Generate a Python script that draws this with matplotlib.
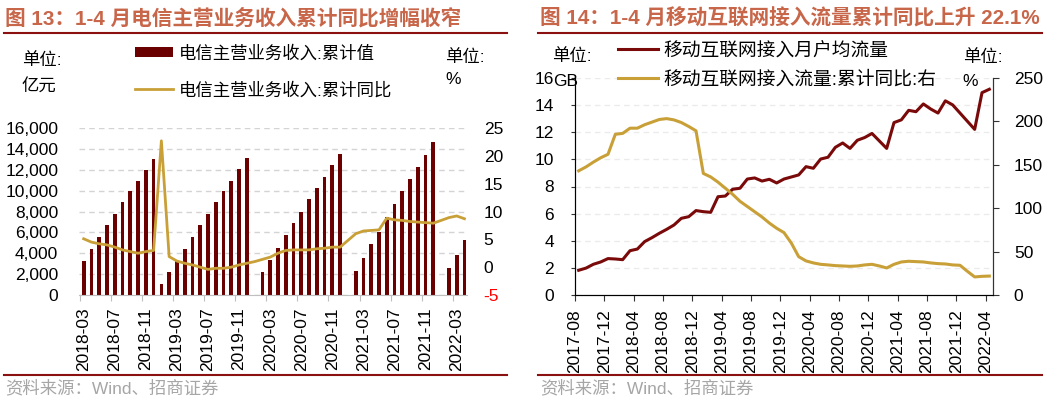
import numpy as np
import pandas as pd
import matplotlib
matplotlib.use('Agg')
import matplotlib.pyplot as plt
from matplotlib.lines import Line2D

plt.rcParams['font.family'] = ['Liberation Sans', 'Noto Sans CJK SC']
plt.rcParams['axes.unicode_minus'] = False

# ---------------- data: figure 13 (telecom revenue, 2018-03 .. 2022-04)
rev_months = pd.period_range('2018-03', '2022-04', freq='M').strftime('%Y-%m').tolist()
rev_cum = [3230, 4390, 5550, 6680, 7740, 8870, 10000, 10940, 12000, 13000,
           1070, 2160, 3290, 4450, 5550, 6680, 7740, 8870, 9970, 10940, 12030, 13100,
           np.nan, 2190, 3320, 4550, 5710, 6900, 8000, 9160, 10230, 11290, 12450, 13550,
           np.nan, 2320, 3580, 4840, 6070, 7520, 8710, 9940, 11070, 12230, 13450, 14650,
           np.nan, 2550, 3870, 5260]
rev_yoy = [5.1, 4.5, 4.2, 4.0, 3.6, 3.1, 2.8, 2.5, 2.8, 3.0,
           22.7, 1.9, 1.1, 0.7, 0.4, 0.0, -0.4, -0.2, -0.2, 0.0, 0.4, 0.7,
           1.0, 1.4, 1.8, 2.5, 3.0, 3.1, 3.1, 3.1, 3.3, 3.4, 3.6, 3.6,
           4.8, 6.0, 6.5, 6.6, 6.7, 8.8, 8.5, 8.4, 8.2, 8.1, 8.0, 7.9,
           8.4, 8.9, 9.2, 8.7]

# ---------------- data: figure 14 (mobile traffic, 2017-08 .. 2022-04)
dou_months = pd.period_range('2017-08', '2022-04', freq='M').strftime('%Y-%m').tolist()
dou_gb = [1.84, 2.0, 2.28, 2.45, 2.7, 2.67, 2.62, 3.28, 3.4, 3.95, 4.24, 4.56,
          4.85, 5.17, 5.66, 5.78, 6.23, 6.15, 6.1, 7.25, 7.3, 7.8, 7.87, 8.55,
          8.63, 8.4, 8.53, 8.26, 8.55, 8.7, 8.85, 9.46, 9.34, 10.02, 10.15, 10.88,
          11.2, 10.8, 11.4, 11.6, 11.9, 11.35, 10.8, 12.7, 12.9, 13.6, 13.5, 14.07,
          13.7, 13.4, 14.3, 14.0, 13.4, 12.8, 12.2, 14.9, 15.15]
traffic_yoy = [143, 147.5, 153, 158, 162, 185, 186, 192, 192, 196, 199, 202,
               203, 201.5, 198.5, 194, 189, 140, 136, 130, 123, 116, 108, 102,
               96, 90, 83, 77, 72, 60, 44.4, 39.5, 37.2, 35.6, 34.9, 34.1,
               33.7, 33.3, 33.7, 34.9, 35.6, 33.7, 31.4, 35.6, 38.3, 39.1, 38.7, 38.3,
               37.2, 36.4, 36.0, 34.9, 34.5, 27.6, 21.1, 21.8, 22.1]

BAR = '#6B0000'
DARK = '#7A0A0A'
GOLD = '#C9A038'
TITLE = '#C8664A'
RULE = '#8B1010'
FS = 12.5

W, H = 1059, 405
def fx(px):
    return px / W
def fy(py):
    return 1 - py / H

fig = plt.figure(figsize=(W / 100, H / 100), dpi=100)

# ======== left chart
ax1 = fig.add_axes([fx(79), fy(295), (467 - 79) / W, (295 - 128) / H])
x1 = np.arange(len(rev_months))
bars = ax1.bar(x1, rev_cum, width=0.48, color=BAR, zorder=2)
ax1.set_xlim(-0.6, 49.33)
ax1.set_ylim(0, 16000)
ax1.set_yticks(np.arange(0, 16001, 2000))
ax1.set_yticklabels(['{:,}'.format(v) for v in range(0, 16001, 2000)], fontsize=FS)
ax1.grid(axis='y', ls=(0, (4, 3)), color='#D4D4D4', lw=1)
ax1.set_axisbelow(True)
for s in ['top', 'left', 'right']:
    ax1.spines[s].set_visible(False)
ax1.spines['bottom'].set_color('#BFBFBF')
ax1.tick_params(axis='y', length=0, pad=15)
lab_pos = x1[::4]
ax1.set_xticks(lab_pos - 0.5)
ax1.set_xticklabels([])
ax1.tick_params(axis='x', which='major', length=4, color='#BFBFBF')
ax1.set_xticks(lab_pos, minor=True)
ax1.set_xticklabels([rev_months[i] for i in lab_pos], minor=True, rotation=90, fontsize=FS)
ax1.tick_params(axis='x', which='minor', length=0, pad=9)

ax1r = ax1.twinx()
line1, = ax1r.plot(x1, rev_yoy, color=GOLD, lw=2)
ax1r.set_ylim(-5, 25)
ax1r.set_yticks(np.arange(-5, 26, 5))
ax1r.set_yticklabels([str(v) for v in range(-5, 26, 5)], fontsize=FS)
ax1r.get_yticklabels()[0].set_color('#FF0000')
ax1r.tick_params(axis='y', length=0, pad=12)
for s in ax1r.spines.values():
    s.set_visible(False)

fig.legend(handles=[bars], labels=['电信主营业务收入:累计值'], loc='center left',
           bbox_to_anchor=(fx(135), fy(53)), frameon=False, borderpad=0, borderaxespad=0,
           handlelength=2.2, handleheight=0.45, handletextpad=0.35, fontsize=FS)
fig.legend(handles=[line1], labels=['电信主营业务收入:累计同比'], loc='center left',
           bbox_to_anchor=(fx(135), fy(90)), frameon=False, borderpad=0, borderaxespad=0,
           handlelength=2.2, handletextpad=0.35, fontsize=FS)

fig.text(fx(22), fy(60), '单位:', fontsize=FS, va='center')
fig.text(fx(22), fy(87), '亿元', fontsize=FS, va='center')
fig.text(fx(445), fy(57), '单位:', fontsize=FS, va='center')
fig.text(fx(445), fy(80), '%', fontsize=FS, va='center')

# ======== right chart
ax2 = fig.add_axes([fx(575), fy(295.3), (993 - 575) / W, (295.3 - 77.7) / H])
x2 = np.arange(len(dou_months)) + 0.5
line2, = ax2.plot(x2, dou_gb, color=DARK, lw=2.2)
ax2.set_xlim(0, len(dou_months))
ax2.set_ylim(0, 16)
ax2.set_yticks(np.arange(0, 17, 2))
ax2.tick_params(axis='y', labelsize=FS, length=3, pad=12, color='#333333')
ax2.grid(axis='y', ls=(0, (4, 3)), color='#EBEBEB', lw=1)
pos2 = np.arange(0, len(dou_months), 4)
ax2.set_xticks(pos2)
ax2.set_xticklabels([dou_months[i] for i in pos2], rotation=90, fontsize=FS)
ax2.tick_params(axis='x', length=4, pad=6, color='#333333')
ax2.spines['top'].set_visible(False)
for s in ['left', 'right', 'bottom']:
    ax2.spines[s].set_color('#333333')

ax2r = ax2.twinx()
line3, = ax2r.plot(x2, traffic_yoy, color=GOLD, lw=2.2)
ax2r.set_ylim(0, 250)
ax2r.set_yticks(np.arange(0, 251, 50))
ax2r.tick_params(axis='y', labelsize=FS, length=4, pad=11, color='#333333')
ax2r.spines['top'].set_visible(False)
ax2r.spines['right'].set_color('#333333')

FS2 = 13.5
fig.legend(handles=[line2], labels=['移动互联网接入月户均流量'], loc='center left',
           bbox_to_anchor=(fx(618), fy(51)), frameon=False, borderpad=0, borderaxespad=0,
           handlelength=2.15, handletextpad=0.28, fontsize=FS2)
fig.legend(handles=[line3], labels=['移动互联网接入流量:累计同比:右'], loc='center left',
           bbox_to_anchor=(fx(618), fy(80)), frameon=False, borderpad=0, borderaxespad=0,
           handlelength=2.15, handletextpad=0.28, fontsize=FS2)

fig.text(fx(552), fy(56), '单位:', fontsize=FS, va='center')
fig.text(fx(553), fy(82), 'GB', fontsize=FS, va='center')
fig.text(fx(963), fy(57), '单位:', fontsize=FS, va='center')
fig.text(fx(962), fy(82), '%', fontsize=FS, va='center')

# ======== titles, rules, sources
fig.text(fx(5), fy(18), '图 13：1-4 月电信主营业务收入累计同比增幅收窄',
         fontsize=14.9, fontweight='bold', color=TITLE, va='center')
fig.text(fx(540), fy(18), '图 14：1-4 月移动互联网接入流量累计同比上升 22.1%',
         fontsize=14.9, fontweight='bold', color=TITLE, va='center')
for x0, x1e in [(4, 507), (538, 1042)]:
    fig.add_artist(Line2D([fx(x0), fx(x1e)], [fy(33), fy(33)], color=RULE, lw=1.5))
    fig.add_artist(Line2D([fx(x0), fx(x1e)], [fy(375), fy(375)], color=RULE, lw=1.5))
fig.text(fx(5), fy(388), '资料来源：Wind、招商证券', fontsize=FS, color='#A6A6A6', va='center')
fig.text(fx(540), fy(388), '资料来源：Wind、招商证券', fontsize=FS, color='#A6A6A6', va='center')

plt.savefig('out.png', dpi=100)
